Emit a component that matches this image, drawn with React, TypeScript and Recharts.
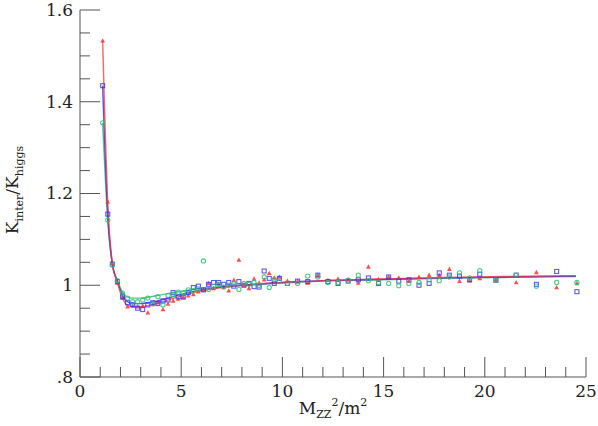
import React from 'react';
import { ComposedChart, Line, Scatter, XAxis, YAxis } from 'recharts';

// ---------- data ----------
const sampleX = [1.12, 1.37, 1.6, 1.85, 2.1, 2.35, 2.6, 2.85, 3.1, 3.35, 3.6, 3.85, 4.1, 4.35, 4.6, 4.85, 5.1, 5.35, 5.6, 5.85, 6.1, 6.35, 6.6, 6.85, 7.1, 7.35, 7.6, 7.85, 8.1, 8.35, 8.6, 8.85, 9.1, 9.35, 9.6, 9.85, 10.25, 10.75, 11.25, 11.75, 12.25, 12.75, 13.25, 13.75, 14.25, 14.75, 15.25, 15.75, 16.25, 16.75, 17.25, 17.75, 18.25, 18.75, 19.25, 19.75, 20.55, 21.55, 22.55, 23.55, 24.55];

const redPoints = [1.533, 1.182, 1.048, 1.005, 0.972, 0.953, 0.955, 0.953, 0.955, 0.94, 0.958, 0.962, 0.947, 0.959, 0.966, 0.97, 0.974, 0.977, 0.98, 0.986, 0.99, 1.004, 0.993, 1.003, 0.996, 0.988, 1.011, 1.055, 1.0, 0.993, 1.014, 1.005, 1.012, 1.026, 1.016, 1.018, 1.009, 1.009, 1.005, 1.022, 1.011, 1.014, 1.012, 1.005, 1.04, 1.013, 1.018, 1.016, 1.009, 1.018, 1.022, 1.022, 1.035, 1.009, 1.01, 1.015, 1.011, 1.006, 1.028, 0.995, 1.004];

const bluePoints = [1.435, 1.155, 1.046, 1.008, 0.976, 0.962, 0.958, 0.95, 0.947, 0.957, 0.962, 0.96, 0.966, 0.968, 0.984, 0.975, 0.974, 0.984, 0.995, 0.998, 0.99, 1.002, 1.006, 1.006, 1.002, 1.006, 0.998, 1.008, 1.0, 1.004, 0.997, 0.996, 1.031, 1.015, 1.004, 1.015, 1.004, 1.009, 1.008, 1.022, 1.008, 1.004, 1.009, 1.012, 1.016, 1.004, 1.018, 1.009, 1.012, 1.0, 1.004, 1.027, 1.022, 1.02, 1.012, 1.024, 1.011, 1.022, 1.002, 1.03, 0.986];

const greenPoints = [1.354, 1.142, 1.044, 1.01, 0.983, 0.972, 0.964, 0.964, 0.968, 0.972, 0.96, 0.975, 0.957, 0.978, 0.98, 0.985, 0.983, 0.99, 0.988, 0.992, 1.053, 0.991, 0.998, 1.002, 0.996, 1.0, 1.003, 0.991, 1.004, 1.002, 1.006, 1.0, 1.018, 0.995, 1.013, 1.008, 1.004, 1.004, 1.02, 1.018, 1.006, 1.006, 1.011, 1.022, 1.01, 1.006, 1.004, 0.999, 1.004, 1.006, 1.012, 1.01, 1.018, 1.027, 1.016, 1.032, 1.011, 1.022, 0.998, 1.006, 1.006];

const curveX = [1.12, 1.37, 1.6, 1.85, 2.1, 2.35, 2.6, 3.0, 3.5, 4, 5, 6, 7, 8, 10, 12, 15, 18, 21, 24.5];
const redCurve = [1.533, 1.182, 1.048, 1.005, 0.972, 0.956, 0.953, 0.953, 0.957, 0.963, 0.977, 0.988, 0.995, 1.0, 1.006, 1.01, 1.014, 1.017, 1.019, 1.021];
const blueCurve = [1.435, 1.155, 1.046, 1.008, 0.978, 0.964, 0.96, 0.96, 0.963, 0.968, 0.98, 0.99, 0.996, 1.0, 1.006, 1.01, 1.013, 1.016, 1.018, 1.02];
const greenCurve = [1.354, 1.142, 1.044, 1.01, 0.985, 0.974, 0.972, 0.972, 0.975, 0.979, 0.987, 0.993, 0.997, 1.0, 1.005, 1.009, 1.012, 1.015, 1.017, 1.019];

const xTicks = [0, 1, 2, 3, 4, 5, 6, 7, 8, 9, 10, 11, 12, 13, 14, 15, 16, 17, 18, 19, 20, 21, 22, 23, 24, 25];
const xTickLabels: Record<number, string> = { 0: '0', 5: '5', 10: '10', 15: '15', 20: '20', 25: '25' };
const yTicks = [0.8, 0.85, 0.9, 0.95, 1.0, 1.05, 1.1, 1.15, 1.2, 1.25, 1.3, 1.35, 1.4, 1.45, 1.5, 1.55, 1.6];
const yTickLabels: Record<string, string> = { '80': '.8', '100': '1', '120': '1.2', '140': '1.4', '160': '1.6' };

const toPts = (xs: number[], ys: number[]) => xs.map((x, i) => ({ x, y: ys[i] }));
const redData = toPts(sampleX, redPoints);
const blueData = toPts(sampleX, bluePoints);
const greenData = toPts(sampleX, greenPoints);
const redLine = toPts(curveX, redCurve);
const blueLine = toPts(curveX, blueCurve);
const greenLine = toPts(curveX, greenCurve);

// ---------- styles ----------
const FONT = 'DejaVu Serif';
const AXIS = '#555';
const RED = '#ff3030';
const BLUE = '#3030ff';
const GREEN = '#30c070';

const isMajorX = (v: number) => Math.abs(v % 5) < 1e-6;
const yKey = (v: number) => String(Math.round(v * 100));
const isMajorY = (v: number) => Math.round(v * 100) % 20 === 0;

const BottomTick = (p: any) => {
  const v = p.payload.value;
  const len = isMajorX(v) ? 20 : 10;
  return (
    <g>
      <line x1={p.x} x2={p.x} y1={p.y} y2={p.y - len} stroke={AXIS} strokeWidth={1} />
      {xTickLabels[v] !== undefined && (
        <text x={p.x} y={p.y + 20} textAnchor="middle" fontFamily={FONT} fontSize={17} fill="#222">
          {xTickLabels[v]}
        </text>
      )}
    </g>
  );
};

const TopTick = (p: any) => {
  const v = p.payload.value;
  const len = isMajorX(v) ? 20 : 10;
  return <line x1={p.x} x2={p.x} y1={p.y} y2={p.y + len} stroke={AXIS} strokeWidth={1} />;
};

const LeftTick = (p: any) => {
  const v = p.payload.value;
  const len = isMajorY(v) ? 20 : 10;
  const lab = yTickLabels[yKey(v)];
  return (
    <g>
      <line x1={p.x} x2={p.x + len} y1={p.y} y2={p.y} stroke={AXIS} strokeWidth={1} />
      {lab !== undefined && (
        <text x={p.x - 7} y={p.y} dy="0.35em" textAnchor="end" fontFamily={FONT} fontSize={17} fill="#222">
          {lab}
        </text>
      )}
    </g>
  );
};

const RightTick = (p: any) => {
  const v = p.payload.value;
  const len = isMajorY(v) ? 20 : 10;
  return <line x1={p.x} x2={p.x - len} y1={p.y} y2={p.y} stroke={AXIS} strokeWidth={1} />;
};

const Triangle = (p: any) => (
  <path d={`M${p.cx},${p.cy - 2.6}L${p.cx - 2.4},${p.cy + 1.8}L${p.cx + 2.4},${p.cy + 1.8}Z`} fill={RED} fillOpacity={0.85} />
);
const Square = (p: any) => (
  <rect x={p.cx - 2} y={p.cy - 2} width={4} height={4} fill="none" stroke={BLUE} strokeOpacity={0.8} strokeWidth={1.1} />
);
const Circle = (p: any) => (
  <circle cx={p.cx} cy={p.cy} r={2.1} fill="none" stroke={GREEN} strokeOpacity={0.85} strokeWidth={1.1} />
);

export default function App() {
  return (
    <div style={{ position: 'absolute', left: 0, top: 0, width: 598, height: 426, background: '#fff' }}>
      <ComposedChart width={598} height={426} margin={{ top: 10, right: 12, bottom: 0, left: 0 }}>
        <XAxis
          xAxisId="b"
          dataKey="x"
          type="number"
          orientation="bottom"
          domain={[0, 25]}
          ticks={xTicks}
          interval={0}
          height={49}
          tickSize={0}
          tickMargin={0}
          tick={<BottomTick />}
          axisLine={{ stroke: AXIS }}
          allowDataOverflow
        />
        <XAxis
          xAxisId="t"
          type="number"
          orientation="top"
          domain={[0, 25]}
          ticks={xTicks}
          interval={0}
          height={0}
          tickSize={0}
          tickMargin={0}
          tick={<TopTick />}
          axisLine={{ stroke: AXIS }}
          allowDataOverflow
        />
        <YAxis
          yAxisId="l"
          dataKey="y"
          type="number"
          orientation="left"
          domain={[0.8, 1.6]}
          ticks={yTicks}
          interval={0}
          width={80}
          tickSize={0}
          tickMargin={0}
          tick={<LeftTick />}
          axisLine={{ stroke: AXIS }}
          allowDataOverflow
        />
        <YAxis
          yAxisId="r"
          type="number"
          orientation="right"
          domain={[0.8, 1.6]}
          ticks={yTicks}
          interval={0}
          width={0}
          tickSize={0}
          tickMargin={0}
          tick={<RightTick />}
          axisLine={{ stroke: AXIS }}
          allowDataOverflow
        />
        <Line xAxisId="b" yAxisId="l" data={greenLine} dataKey="y" type="monotone" stroke={GREEN} strokeWidth={1.4} strokeOpacity={0.85} dot={false} isAnimationActive={false} />
        <Line xAxisId="b" yAxisId="l" data={blueLine} dataKey="y" type="monotone" stroke={BLUE} strokeWidth={1.4} strokeOpacity={0.85} dot={false} isAnimationActive={false} />
        <Line xAxisId="b" yAxisId="l" data={redLine} dataKey="y" type="monotone" stroke={RED} strokeWidth={1.4} strokeOpacity={0.75} dot={false} isAnimationActive={false} />
        <Scatter xAxisId="b" yAxisId="l" data={redData} dataKey="y" shape={<Triangle />} isAnimationActive={false} />
        <Scatter xAxisId="b" yAxisId="l" data={blueData} dataKey="y" shape={<Square />} isAnimationActive={false} />
        <Scatter xAxisId="b" yAxisId="l" data={greenData} dataKey="y" shape={<Circle />} isAnimationActive={false} />
      </ComposedChart>
      <svg width={598} height={426} style={{ position: 'absolute', left: 0, top: 0, pointerEvents: 'none' }}>
        <text x={333} y={414} textAnchor="middle" fontFamily={FONT} fontSize={17} fill="#222">
          M<tspan fontSize={11} dy={4}>ZZ</tspan>
          <tspan fontSize={11} dy={-12}>2</tspan>
          <tspan fontSize={17} dy={8}>/m</tspan>
          <tspan fontSize={11} dy={-8}>2</tspan>
        </text>
        <text transform="translate(18,190) rotate(-90)" textAnchor="middle" fontFamily={FONT} fontSize={17} fill="#222">
          K<tspan fontSize={11} dy={5}>inter</tspan>
          <tspan fontSize={17} dy={-5}>/K</tspan>
          <tspan fontSize={11} dy={5}>higgs</tspan>
        </text>
      </svg>
    </div>
  );
}
